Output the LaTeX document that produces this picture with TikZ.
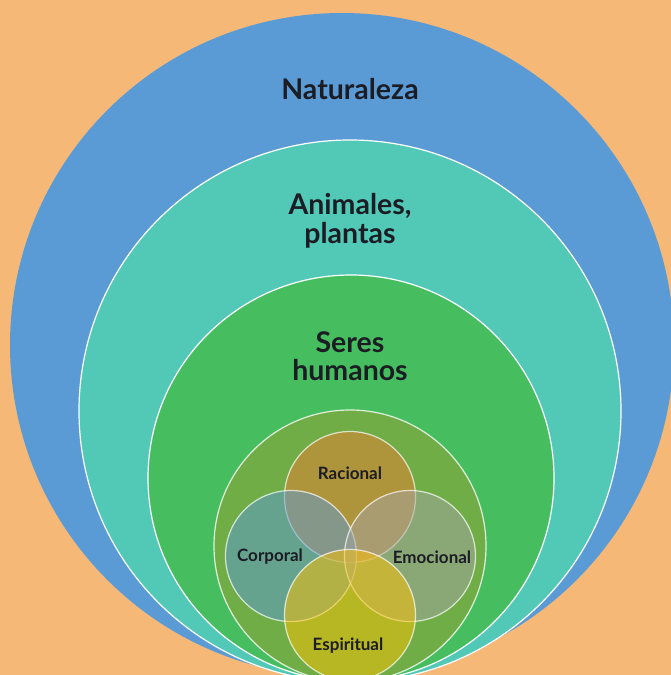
\documentclass[tikz,border=0pt]{standalone}
\usepackage{fontspec}
\setmainfont{Lato}
\usetikzlibrary{positioning}

\definecolor{fondo}{HTML}{F5B877}
\definecolor{azul}{HTML}{5B9BD5}
\definecolor{turquesa}{HTML}{52C9B7}
\definecolor{verde}{HTML}{46BE60}
\definecolor{oliva}{HTML}{70AD47}
\definecolor{naranja}{HTML}{ED7D31}
\definecolor{gris}{HTML}{A5A5A5}
\definecolor{oro}{HTML}{FFC000}
\definecolor{tinta}{HTML}{1C1C24}

\begin{document}
\begin{tikzpicture}
  [x=1pt,y=-1pt,every node/.style={text=tinta,font=\bfseries},
   anillo/.style={circle,inner sep=0pt,draw=white,line width=1.2pt},
   parte/.style={circle,inner sep=0pt,minimum size=131pt,draw=white,
     draw opacity=.7,line width=1.2pt,fill opacity=.5},
   grande/.style={font=\fontsize{28.5}{28.5}\selectfont\bfseries,align=center},
   chica/.style={font=\fontsize{17}{18}\selectfont\bfseries}]
  \useasboundingbox (0,0) rectangle (671,675);
  \clip (0,0) rectangle (671,675);
  \fill[fondo] (0,0) rectangle (671,675);

  % circulos de fuera hacia dentro
  \node[anillo,fill=azul,draw=none,minimum size=664pt] (naturaleza) at (342,345) {};
  \node[anillo,fill=turquesa,minimum size=542pt] (animales) at (350,411) {};
  \node[anillo,fill=verde,minimum size=406pt] (humanos) at (351,478) {};
  \node[anillo,fill=oliva,draw opacity=.8,minimum size=272pt] (persona) at (350,546) {};

  % dimensiones
  \node[parte,fill=naranja] (racional) at (350,497) {};
  \node[parte,fill=azul] (corporal) at (291,556) {};
  \node[parte,fill=gris] (emocional) at (410,556) {};
  \node[parte,fill=oro] (espiritual) at (350,615) {};

  \node[grande] (tnat) at (350,89) {Naturaleza};
  \node[grande] (tani) at (350,221) {Animales,\\plantas};
  \node[grande] (thum) at (350,356) {Seres\\humanos};
  \node[chica] (trac) at (350,473) {Racional};
  \node[chica] (tcor) at (270,557) {Corporal};
  \node[chica] (temo) at (432,557) {Emocional};
  \node[chica] (tesp) at (348,646) {Espiritual};
\end{tikzpicture}
\end{document}
